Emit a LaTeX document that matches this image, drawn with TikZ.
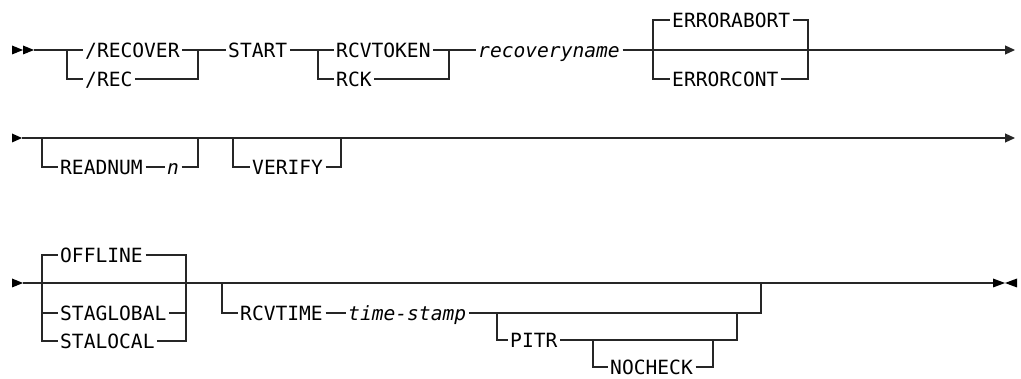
\documentclass[tikz,border=0pt]{standalone}
\usepackage{fontspec}
\setmonofont{DejaVu Sans Mono}
\usetikzlibrary{arrows.meta,positioning,calc}

\tikzset{
  kw/.style={anchor=west, inner xsep=2.5pt, inner ysep=0pt, text height=14.3pt, text depth=0pt,
    font=\ttfamily\fontsize{19.6}{22}\selectfont},
  var/.style={kw, font=\ttfamily\itshape\fontsize{19.6}{22}\selectfont},
  rail/.style={line width=1.2pt, black!85},
  endtip/.style={-{Triangle[length=10pt,width=9pt]}},
  marker/.style={fill=black}
}

\begin{document}
\begin{tikzpicture}[x=1pt,y=-1pt]
\useasboundingbox (0,0) rectangle (1021,379);

% Row 1
\fill[marker] (12,45.5) -- (23,50) -- (12,54.5) -- cycle;
\fill[marker] (23,45.5) -- (34,50) -- (23,54.5) -- cycle;
\coordinate (s1) at (34,50);
\coordinate (end1) at (1015,50);
\coordinate (j1) at (67,50);
\coordinate (k1) at (198,50);
\coordinate (j2) at (318,50);
\coordinate (k2) at (449,50);
\coordinate (j3) at (653,50);
\coordinate (k3) at (808,50);

\node[kw] (recover) at (82.5,50) {/RECOVER};
\node[kw] (rec) at (82.5,79) {/REC};
\node[kw] (start) at (225.5,50) {START};
\node[kw] (rcvtoken) at (333.5,50) {RCVTOKEN};
\node[kw] (rck) at (333.5,79) {RCK};
\node[var] (recname) at (475.5,50) {recoveryname};
\node[kw] (errabort) at (669.5,20) {ERRORABORT};
\node[kw] (errcont) at (669.5,79) {ERRORCONT};

\draw[rail] (s1) -- (recover.west);
\draw[rail] (recover.east) -- (start.west);
\draw[rail] (j1) |- (rec.west);
\draw[rail] (rec.east) -| (k1);
\draw[rail] (start.east) -- (rcvtoken.west);
\draw[rail] (j2) |- (rck.west);
\draw[rail] (rck.east) -| (k2);
\draw[rail] (rcvtoken.east) -- (recname.west);
\draw[rail, endtip] (recname.east) -- (end1);
\draw[rail] (j3) |- (errabort.west);
\draw[rail] (errabort.east) -| (k3);
\draw[rail] (j3) |- (errcont.west);
\draw[rail] (errcont.east) -| (k3);

% Row 2
\fill[marker] (12,133.5) -- (22,138) -- (12,142.5) -- cycle;
\coordinate (s2) at (22,138);
\coordinate (end2) at (1015,138);
\coordinate (j4) at (42,138);
\coordinate (k4) at (198,138);
\coordinate (j5) at (233,138);
\coordinate (k5) at (341,138);

\node[kw] (readnum) at (57.5,167) {READNUM};
\node[var] (num) at (164.5,167) {n};
\node[kw] (verify) at (249.5,167) {VERIFY};

\draw[rail, endtip] (s2) -- (end2);
\draw[rail] (j4) |- (readnum.west);
\draw[rail] (readnum.east) -- (num.west);
\draw[rail] (num.east) -| (k4);
\draw[rail] (j5) |- (verify.west);
\draw[rail] (verify.east) -| (k5);

% Row 3
\fill[marker] (12,278.5) -- (23,283) -- (12,287.5) -- cycle;
\fill[marker] (993,278.5) -- (1005,283) -- (993,287.5) -- cycle;
\fill[marker] (1017,278.5) -- (1005,283) -- (1017,287.5) -- cycle;
\coordinate (s3) at (23,283);
\coordinate (end3) at (993,283);
\coordinate (j6) at (42,283);
\coordinate (k6) at (186,283);
\coordinate (j7) at (222,283);
\coordinate (k7) at (761,283);
\coordinate (j8) at (497,313);
\coordinate (k8) at (737,313);
\coordinate (j9) at (593,340);
\coordinate (k9) at (713,340);

\node[kw] (offline) at (57.5,255) {OFFLINE};
\node[kw] (stagl) at (57.5,313) {STAGLOBAL};
\node[kw] (staloc) at (57.5,341) {STALOCAL};
\node[kw] (rcvtime) at (237.5,313) {RCVTIME};
\node[var] (tstamp) at (345.5,313) {time-stamp};
\node[kw] (pitr) at (507.5,340) {PITR};
\node[kw] (nocheck) at (607.5,367) {NOCHECK};

\draw[rail] (s3) -- (end3);
\draw[rail] (j6) |- (offline.west);
\draw[rail] (offline.east) -| (k6);
\draw[rail] (j6) |- (stagl.west);
\draw[rail] (stagl.east) -| (k6);
\draw[rail] (j6) |- (staloc.west);
\draw[rail] (staloc.east) -| (k6);
\draw[rail] (j7) |- (rcvtime.west);
\draw[rail] (rcvtime.east) -- (tstamp.west);
\draw[rail] (tstamp.east) -| (k7);
\draw[rail] (j8) |- (pitr.west);
\draw[rail] (pitr.east) -| (k8);
\draw[rail] (j9) |- (nocheck.west);
\draw[rail] (nocheck.east) -| (k9);
\end{tikzpicture}
\end{document}
